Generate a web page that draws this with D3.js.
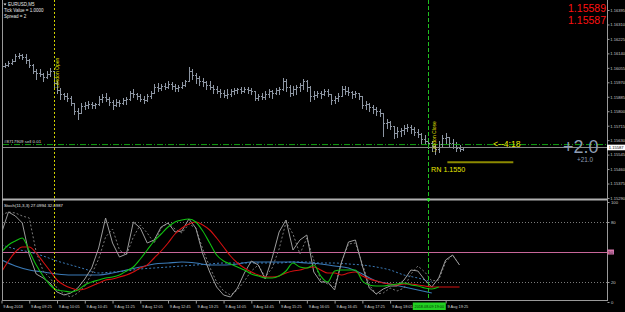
<!DOCTYPE html>
<html><head><meta charset="utf-8">
<script src="https://cdn.jsdelivr.net/npm/d3@7"></script>
<style>
html,body{margin:0;padding:0;background:#000;overflow:hidden}
svg{display:block}
text{font-family:"Liberation Sans",Arial,sans-serif}
</style></head><body>
<svg id="c" width="625" height="312"></svg>
<script>
// ---------- DATA ----------
const symbolInfo = ["EURUSD,M5", "Tick Value = 1.0000", "Spread = 2"];
const firstOpen = 1.16061;
const highs = [1.16079,1.16084,1.16096,1.16108,1.16137,1.16143,1.16137,1.16137,1.16108,1.16079,
1.16049,1.16049,1.16026,1.16037,1.16055,1.16037,1.15979,1.15938,1.15909,1.15909,
1.15891,1.15850,1.15821,1.15850,1.15856,1.15862,1.15856,1.15850,1.15891,1.15903,
1.15909,1.15885,1.15867,1.15873,1.15867,1.15879,1.15885,1.15920,1.15932,1.15909,
1.15903,1.15891,1.15903,1.15920,1.15961,1.15967,1.15961,1.15967,1.15979,1.15973,
1.15961,1.15955,1.15973,1.15985,1.16061,1.16049,1.16026,1.16008,1.15996,1.15979,
1.15979,1.15955,1.15950,1.15932,1.15926,1.15932,1.15932,1.15938,1.15938,1.15944,
1.15944,1.15944,1.15938,1.15920,1.15903,1.15909,1.15920,1.15932,1.15926,1.15938,
1.15944,1.15996,1.15991,1.15955,1.15950,1.15955,1.15967,1.15991,1.15985,1.15950,
1.15920,1.15920,1.15920,1.15932,1.15932,1.15903,1.15891,1.15909,1.15950,1.15950,
1.15944,1.15920,1.15920,1.15909,1.15891,1.15862,1.15850,1.15838,1.15826,1.15815,
1.15791,1.15756,1.15744,1.15715,1.15709,1.15703,1.15721,1.15727,1.15721,1.15709,
1.15698,1.15674,1.15662,1.15645,1.15627,1.15610,1.15627,1.15662,1.15674,1.15651,
1.15639,1.15621,1.15604,1.15592];
const lows = [1.16061,1.16061,1.16067,1.16079,1.16096,1.16114,1.16108,1.16084,1.16061,1.16026,
1.15991,1.16008,1.15979,1.15996,1.16008,1.15944,1.15909,1.15873,1.15873,1.15862,
1.15838,1.15785,1.15756,1.15791,1.15815,1.15821,1.15821,1.15821,1.15838,1.15856,
1.15862,1.15838,1.15815,1.15832,1.15832,1.15844,1.15844,1.15867,1.15885,1.15873,
1.15862,1.15850,1.15862,1.15879,1.15909,1.15920,1.15926,1.15932,1.15938,1.15932,
1.15920,1.15920,1.15938,1.15950,1.15979,1.15991,1.15967,1.15955,1.15950,1.15932,
1.15932,1.15909,1.15909,1.15885,1.15885,1.15879,1.15891,1.15903,1.15909,1.15909,
1.15914,1.15909,1.15903,1.15867,1.15867,1.15873,1.15873,1.15885,1.15879,1.15903,
1.15903,1.15926,1.15920,1.15891,1.15897,1.15903,1.15920,1.15932,1.15920,1.15862,
1.15873,1.15885,1.15879,1.15897,1.15891,1.15844,1.15850,1.15862,1.15891,1.15903,
1.15897,1.15879,1.15885,1.15873,1.15821,1.15815,1.15803,1.15791,1.15780,1.15774,
1.15657,1.15703,1.15698,1.15645,1.15651,1.15657,1.15668,1.15686,1.15674,1.15662,
1.15651,1.15616,1.15610,1.15586,1.15569,1.15551,1.15563,1.15598,1.15616,1.15592,
1.15586,1.15569,1.15569,1.15575];
const closes = [1.16067,1.16073,1.16084,1.16096,1.16125,1.16131,1.16120,1.16102,1.16073,1.16037,
1.16026,1.16020,1.16002,1.16020,1.16037,1.15967,1.15926,1.15903,1.15891,1.15879,
1.15850,1.15803,1.15791,1.15832,1.15838,1.15844,1.15838,1.15844,1.15873,1.15885,
1.15873,1.15856,1.15838,1.15856,1.15850,1.15867,1.15873,1.15909,1.15903,1.15891,
1.15873,1.15867,1.15891,1.15909,1.15944,1.15938,1.15950,1.15944,1.15961,1.15950,
1.15938,1.15944,1.15955,1.15979,1.16037,1.16014,1.15996,1.15979,1.15973,1.15955,
1.15944,1.15932,1.15920,1.15909,1.15897,1.15903,1.15920,1.15926,1.15932,1.15920,
1.15932,1.15926,1.15920,1.15879,1.15891,1.15885,1.15903,1.15920,1.15909,1.15926,
1.15932,1.15979,1.15944,1.15909,1.15932,1.15944,1.15955,1.15979,1.15944,1.15891,
1.15897,1.15909,1.15903,1.15920,1.15903,1.15867,1.15879,1.15891,1.15932,1.15920,
1.15914,1.15903,1.15909,1.15891,1.15838,1.15844,1.15826,1.15815,1.15803,1.15791,
1.15733,1.15739,1.15715,1.15674,1.15686,1.15692,1.15703,1.15709,1.15698,1.15680,
1.15668,1.15639,1.15627,1.15616,1.15598,1.15580,1.15610,1.15645,1.15651,1.15616,
1.15610,1.15586,1.15580,1.15587];

const priceTicks = [1.16395,1.16310,1.16225,1.16140,1.16055,1.15970,1.15885,1.15800,1.15715,1.15630,1.15545,1.15460,1.15375,1.15290];
const timeTickIdx = [0,8,16,24,32,40,48,56,64,72,80,88,96,104,112,128];
const timeLabels = ["9 Aug 2018","9 Aug 09:25","9 Aug 10:05","9 Aug 10:45","9 Aug 11:25","9 Aug 12:05","9 Aug 12:45","9 Aug 13:25","9 Aug 14:05","9 Aug 14:45","9 Aug 15:25","9 Aug 16:05","9 Aug 16:45","9 Aug 17:25","9 Aug 18:05","9 Aug 19:25"];

// Stochastic sub-window (sampled every STEP_OSC / STEP_MA bars)
const STEP_OSC = 2, STEP_MA = 4;
const stochMain = [69,90,86,79,47,28,24,19,10,7,9,14,23,34,54,84,59,45,48,80,74,59,62,75,79,70,71,83,74,48,30,15,7,5,14,29,41,37,23,44,70,82,52,62,67,30,20,20,12,40,60,62,36,14,8,13,16,16,22,32,31,22,15,24,42,47,37];
const stochSignal = [87,90,89,86,84,50,31,24,14,8,5,9,16,28,43,65,73,52,47,65,77,69,59,74,79,73,69,78,74,53,35,20,11,7,12,21,31,37,25,34,53,80,68,48,64,42,22,18,15,40,58,59,38,17,8,9,14,11,14,28,36,30,21,22,40,47,37];
const greenLine = [50,57,61,64,51,37,26,17,12,11,10,12,17,20,22,24,25,27,31,35,43,52,61,68,75,80,82,83,80,71,59,47,41,38,35,32,28,26,24,24,26,31,39,35,34,37,26,20,31,32,32,32,21,17,16,16,17,18,19,17,16,14,13,15];
const redLine = [30,41,50,55,55,49,40,31,22,17,14,12,13,16,19,22,23,25,27,30,34,37,44,51,59,68,74,78,80,77,72,64,55,46,39,34,30,27,25,25,26,29,31,32,34,35,32,29,29,27,29,30,26,23,21,19,18,17,18,18,17,16,15,15,15,15,15];
const blueSolid = [42,36,32,30,28,27,27,27,29,32,35,38,39,40,39,37,37,38,40,40,40,40,39,38,36,34,28,21,18,15,12,9];
const blueDot = [57,53,50,46,41,37,33,29,30,31,33,34,35,36,37,38,39,39,39,39,39,40,40,39,39,38,37,35,32,27,24,20];
const stochLevels = [80, 20];
const stochMid = 50;
const stochTicks = [100, 80, 20, 0];
const stochLabel = "Stoch(11,3,3) 27.0994 32.0987";

// Events / objects
const londonOpenIdx = 15, londonCloseIdx = 123;
const bid = 1.15587, ask = 1.15589;
const orderPrice = 1.15604, orderText = "#8717909 sell 0.01";
const roundNumber = 1.1550, rnStartIdx = 128.5, rnEndIdx = 147.5;
const timerText = "<--4:18", profitText = "+2.0", profitSub = "+21.0";
const closeTimeLabel = "2018.08.09 19:00";

// ---------- DRAW ----------
const svg = d3.select("#c");
svg.append("rect").attr("width",625).attr("height",312).attr("fill","#000");

const x = d3.scaleLinear().domain([0,133]).range([1.5,463]);
const yP = d3.scaleLinear().domain([1.15290,1.16395]).range([198,10]);
const yS = d3.scaleLinear().domain([0,100]).range([302,202]);

const defs = svg.append("defs");
defs.append("clipPath").attr("id","cm").append("rect").attr("x",3).attr("y",0).attr("width",604).attr("height",198);
defs.append("clipPath").attr("id","cs").append("rect").attr("x",3).attr("y",201).attr("width",604).attr("height",99);

const gm = svg.append("g").attr("clip-path","url(#cm)");
const gs = svg.append("g").attr("clip-path","url(#cs)");

// bars
const opens = [firstOpen].concat(closes.slice(0,-1));
const bars = gm.append("g").attr("stroke","#8d96a3").attr("stroke-width",1).attr("shape-rendering","crispEdges");
highs.forEach((h,i)=>{
  const xi = Math.round(x(i))+0.5;
  bars.append("line").attr("x1",xi).attr("x2",xi).attr("y1",yP(h)).attr("y2",yP(lows[i])+1);
  bars.append("line").attr("x1",xi-1.5).attr("x2",xi).attr("y1",Math.round(yP(opens[i]))+0.5).attr("y2",Math.round(yP(opens[i]))+0.5);
  bars.append("line").attr("x1",xi).attr("x2",xi+1.5).attr("y1",Math.round(yP(closes[i]))+0.5).attr("y2",Math.round(yP(closes[i]))+0.5);
});

// order line & bid line
gm.append("line").attr("x1",3).attr("x2",607).attr("y1",yP(orderPrice)).attr("y2",yP(orderPrice))
  .attr("stroke","#10a010").attr("stroke-width",1).attr("stroke-dasharray","6,2,1,2");
gm.append("line").attr("x1",3).attr("x2",607).attr("y1",Math.round(yP(bid))+0.5).attr("y2",Math.round(yP(bid))+0.5)
  .attr("stroke","#8a8a8a").attr("stroke-width",1);
gm.append("text").attr("x",4).attr("y",yP(orderPrice)-1.5).attr("fill","#d8d8d8").attr("font-size",4.4).text(orderText);

// round number line
gm.append("line").attr("x1",x(rnStartIdx)).attr("x2",x(rnEndIdx)).attr("y1",yP(roundNumber)).attr("y2",yP(roundNumber))
  .attr("stroke","#8c8a00").attr("stroke-width",2);
gm.append("text").attr("x",431).attr("y",yP(roundNumber)+9.5).attr("fill","#e8e800").attr("font-size",7.2).text("RN " + roundNumber.toFixed(4));

// timer & profit
gm.append("text").attr("x",493).attr("y",yP(orderPrice)+2.8).attr("fill","#e8e800").attr("font-size",8.6).text(timerText);
gm.append("text").attr("x",563).attr("y",yP(bid)+6).attr("fill","#8e9db3").attr("font-size",18).text(profitText);
gm.append("text").attr("x",577).attr("y",yP(bid)+15).attr("fill","#8e9db3").attr("font-size",6.4).text(profitSub);

// ask/bid red labels
gm.append("text").attr("x",606).attr("y",11.5).attr("text-anchor","end").attr("fill","#ff1010").attr("font-size",10.5).text(ask.toFixed(5));
gm.append("text").attr("x",606).attr("y",23.5).attr("text-anchor","end").attr("fill","#ff1010").attr("font-size",10.5).text(bid.toFixed(5));

// symbol info
symbolInfo.forEach((t,i)=>{
  svg.append("text").attr("x",i===0?8:4).attr("y",6.3+i*5.6).attr("fill","#e8e8e8").attr("font-size",4.5).text(t);
});
svg.append("path").attr("d","M3.5,3.5 L6.5,3.5 L5,5.5 Z").attr("fill","#e8e8e8");

// sub-window levels
stochLevels.forEach(v=>{
  gs.append("line").attr("x1",3).attr("x2",607).attr("y1",Math.round(yS(v))+0.5).attr("y2",Math.round(yS(v))+0.5)
    .attr("stroke","#7a7a7a").attr("stroke-dasharray","1,2");
});
gs.append("line").attr("x1",3).attr("x2",607).attr("y1",Math.round(yS(stochMid))+0.5).attr("y2",Math.round(yS(stochMid))+0.5)
  .attr("stroke","#c8679a").attr("stroke-width",1);

function drawSeries(vals, step, color, width, dash, curve){
  const line = d3.line().x((d,k)=>x(k*step)).y(d=>yS(d)).curve(curve);
  const p = gs.append("path").attr("d",line(vals)).attr("fill","none").attr("stroke",color).attr("stroke-width",width);
  if(dash) p.attr("stroke-dasharray",dash);
}
drawSeries(blueDot, STEP_MA, "#3b7bb8", 1, "2,2", d3.curveMonotoneX);
drawSeries(blueSolid, STEP_MA, "#3b7bb8", 1.1, null, d3.curveMonotoneX);
drawSeries(stochSignal, STEP_OSC, "#7a7a7a", 1, "2,2", d3.curveLinear);
drawSeries(stochMain, STEP_OSC, "#9c9c9c", 1, null, d3.curveLinear);
drawSeries(redLine, STEP_OSC, "#d41010", 1.1, null, d3.curveMonotoneX);
drawSeries(greenLine, STEP_OSC, "#10c010", 1.1, null, d3.curveMonotoneX);

gs.append("text").attr("x",4).attr("y",207).attr("fill","#e0e0e0").attr("font-size",4.3).text(stochLabel);

// vertical session lines
svg.append("line").attr("x1",Math.round(x(londonOpenIdx))+0.5).attr("x2",Math.round(x(londonOpenIdx))+0.5).attr("y1",0).attr("y2",300)
  .attr("stroke","#d0d000").attr("stroke-dasharray","2,2");
svg.append("line").attr("x1",Math.round(x(londonCloseIdx))+0.5).attr("x2",Math.round(x(londonCloseIdx))+0.5).attr("y1",0).attr("y2",300)
  .attr("stroke","#20c020").attr("stroke-dasharray","4,2");
svg.append("text").attr("transform",`translate(${x(londonOpenIdx)+5.2},88) rotate(-90)`).attr("fill","#e0e000").attr("font-size",5).text("London Open");
svg.append("text").attr("transform",`translate(${x(londonCloseIdx)+7.8},152) rotate(-90)`).attr("fill","#e0e000").attr("font-size",5).text("London Close");

// frame
svg.append("line").attr("x1",2.5).attr("x2",2.5).attr("y1",0).attr("y2",301).attr("stroke","#9a9a9a");
svg.append("rect").attr("x",2).attr("y",198.5).attr("width",606).attr("height",2).attr("fill","#b0b0b0");
svg.append("line").attr("x1",2).attr("x2",608).attr("y1",300.5).attr("y2",300.5).attr("stroke","#9a9a9a");

// price axis
const axFont = "Liberation Sans, Arial, sans-serif";
const ay = svg.append("g").attr("transform","translate(607.5,0)")
  .call(d3.axisRight(yP).tickValues(priceTicks).tickSize(2).tickSizeOuter(0).tickPadding(0.8).tickFormat(d=>d.toFixed(5)));
ay.select(".domain").attr("d","M0,0V300").attr("stroke","#9a9a9a");
ay.selectAll(".tick line").attr("stroke","#9a9a9a");
ay.selectAll(".tick text").attr("fill","#c8c8c8").attr("font-size",4.1).attr("font-family",axFont);

// stoch axis
const as = svg.append("g").attr("transform","translate(607.5,0)")
  .call(d3.axisRight(yS).tickValues(stochTicks).tickSize(2).tickSizeOuter(0).tickPadding(1.5));
as.select(".domain").remove();
as.selectAll(".tick line").attr("stroke","#9a9a9a");
as.selectAll(".tick text").attr("fill","#c8c8c8").attr("font-size",4.2).attr("font-family",axFont);

// bid marker on axis
svg.append("rect").attr("x",607).attr("y",yP(bid)-2.8).attr("width",18).attr("height",5.6).attr("fill","#ffffff");
svg.append("text").attr("x",608.8).attr("y",yP(bid)+1.5).attr("fill","#000").attr("font-size",4.1).text(bid.toFixed(5));
// 50 marker
svg.append("rect").attr("x",607.5).attr("y",yS(stochMid)-2.5).attr("width",6.5).attr("height",5).attr("fill","#d977ad");
svg.append("text").attr("x",608.3).attr("y",yS(stochMid)+1.6).attr("fill","#402030").attr("font-size",4.2).text(stochMid);

// time axis
const ax = svg.append("g").attr("transform","translate(0,300.5)")
  .call(d3.axisBottom(x).tickValues(timeTickIdx).tickSize(3).tickSizeOuter(0).tickFormat((d,i)=>timeLabels[i]));
ax.select(".domain").remove();
ax.selectAll(".tick line").attr("stroke","#9a9a9a");
ax.selectAll(".tick text").attr("fill","#d0d0d0").attr("font-size",3.9).attr("text-anchor","start")
  .attr("dx",1.3).attr("dy",0).attr("y",7).attr("font-family",axFont);

// close time label highlight
const cx = x(londonCloseIdx);
svg.append("rect").attr("x",cx-15.5).attr("y",302.5).attr("width",33).attr("height",7.5).attr("fill","#22d022");
svg.append("text").attr("x",cx+1).attr("y",308).attr("text-anchor","middle").attr("fill","#063006").attr("font-size",3.8).text(closeTimeLabel);
svg.append("rect").attr("x",cx-1).attr("y",198).attr("width",2.5).attr("height",3).attr("fill","#30e030");
</script>
</body></html>
